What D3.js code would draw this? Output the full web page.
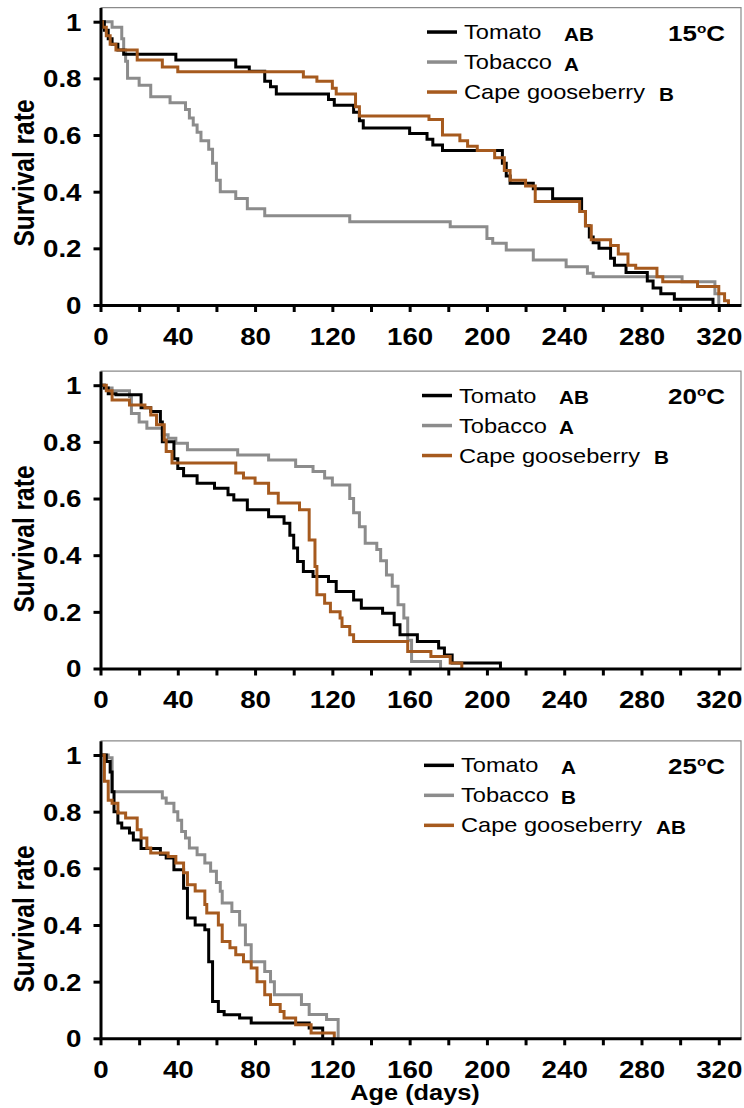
<!DOCTYPE html>
<html><head><meta charset="utf-8">
<script src="https://cdn.jsdelivr.net/npm/d3@7"></script>
<style>html,body{margin:0;padding:0;background:#fff}svg{display:block}</style>
</head><body>
<svg id="c" width="744" height="1108"></svg>
<script>
// ---------- data ----------
const hosts = ["Tomato", "Tobacco", "Cape gooseberry"];
const temps = ["15", "20", "25"];
const letters15 = ["AB", "A", "B"];
const letters20 = ["AB", "A", "B"];
const letters25 = ["A", "B", "AB"];
const xTickValues = [0,20,40,60,80,100,120,140,160,180,200,220,240,260,280,300,320];
const xTickLabels = [0,40,80,120,160,200,240,280,320];
const yTickLabels = [0,0.2,0.4,0.6,0.8,1];

// [age (days), survival rate] - step starts
const tomato15 = [[0,1],[2,0.97],[4,0.94],[6,0.92],[9,0.9],[12,0.885],[39,0.865],[70,0.84],[77,0.825],[85,0.79],[88,0.77],[91,0.745],[118,0.725],[121,0.705],[131,0.68],[134,0.65],[136,0.625],[160,0.605],[169,0.585],[172,0.565],[177,0.545],[208,0.5],[210,0.455],[212,0.43],[224,0.41],[234,0.375],[249,0.33],[251,0.28],[253,0.24],[255,0.22],[258,0.2],[264,0.165],[266,0.14],[272,0.115],[283,0.085],[286,0.06],[290,0.04],[297,0.02],[317,0]];
const tobacco15 = [[0,1],[6,0.98],[11,0.94],[12,0.9],[13,0.86],[14,0.8],[20,0.776],[26,0.735],[36,0.714],[44,0.69],[46,0.66],[48,0.635],[50,0.61],[52,0.58],[56,0.55],[58,0.5],[60,0.44],[62,0.4],[70,0.376],[76,0.34],[85,0.315],[129,0.294],[181,0.276],[200,0.235],[203,0.218],[210,0.194],[224,0.159],[241,0.135],[252,0.112],[255,0.1],[301,0.082],[318,0.04],[320,0]];
const cape15 = [[0,1],[1,0.98],[3,0.95],[5,0.92],[8,0.9],[19,0.865],[32,0.84],[40,0.823],[105,0.805],[112,0.79],[120,0.765],[122,0.745],[132,0.7],[134,0.667],[170,0.655],[177,0.6],[186,0.58],[190,0.56],[195,0.545],[204,0.52],[209,0.475],[212,0.44],[220,0.42],[225,0.365],[248,0.33],[251,0.28],[254,0.23],[264,0.21],[268,0.18],[273,0.14],[277,0.13],[288,0.1],[291,0.082],[309,0.065],[320,0.04],[323,0.015],[325,0]];

const tomato20 = [[0,1],[2,0.99],[4,0.97],[8,0.966],[21,0.92],[26,0.907],[31,0.87],[32,0.8],[38,0.74],[40,0.706],[43,0.68],[50,0.654],[59,0.636],[66,0.613],[69,0.595],[76,0.56],[87,0.536],[95,0.513],[98,0.47],[100,0.425],[102,0.378],[105,0.342],[110,0.325],[118,0.307],[122,0.272],[131,0.242],[135,0.213],[146,0.195],[152,0.154],[155,0.119],[164,0.095],[175,0.072],[178,0.048],[182,0.019],[207,0]];
const tobacco20 = [[0,1],[2,0.99],[6,0.98],[15,0.96],[16,0.9],[20,0.87],[24,0.848],[32,0.825],[35,0.813],[39,0.795],[45,0.772],[71,0.754],[87,0.736],[101,0.713],[110,0.695],[116,0.672],[120,0.648],[129,0.6],[131,0.55],[134,0.5],[137,0.442],[143,0.42],[145,0.38],[148,0.33],[151,0.29],[154,0.225],[157,0.178],[159,0.1],[161,0.025],[176,0]];
const cape20 = [[0,1],[3,0.98],[6,0.948],[15,0.93],[23,0.92],[26,0.895],[29,0.86],[33,0.807],[34,0.766],[37,0.725],[70,0.69],[74,0.672],[80,0.654],[87,0.619],[92,0.584],[103,0.56],[108,0.454],[111,0.36],[112,0.26],[116,0.23],[119,0.2],[124,0.178],[125,0.148],[129,0.119],[131,0.095],[159,0.06],[171,0.042],[181,0.019],[187,0]];

const tomato25 = [[0,1],[3,0.977],[5,0.94],[6,0.87],[7,0.8],[9,0.76],[11,0.742],[15,0.725],[17,0.7],[21,0.67],[31,0.65],[34,0.636],[38,0.595],[43,0.53],[45,0.425],[49,0.4],[54,0.383],[56,0.27],[58,0.13],[61,0.095],[64,0.083],[72,0.072],[78,0.054],[108,0.036],[115,0]];
const tobacco25 = [[0,1],[4,0.99],[6,0.87],[32,0.848],[34,0.83],[38,0.8],[40,0.77],[42,0.73],[44,0.707],[46,0.672],[50,0.648],[54,0.619],[57,0.59],[60,0.55],[62,0.519],[63,0.478],[68,0.448],[72,0.4],[75,0.33],[78,0.27],[85,0.236],[88,0.2],[90,0.154],[104,0.119],[108,0.084],[117,0.066],[123,0]];
const cape25 = [[0,1],[2,0.907],[4,0.84],[6,0.83],[9,0.795],[13,0.778],[19,0.736],[21,0.707],[24,0.672],[26,0.654],[35,0.642],[39,0.619],[43,0.584],[45,0.542],[49,0.52],[54,0.472],[55,0.442],[61,0.4],[63,0.342],[67,0.32],[70,0.295],[74,0.27],[78,0.248],[81,0.2],[85,0.154],[88,0.119],[93,0.095],[95,0.072],[101,0.048],[109,0.019],[121,0]];

// ---------- layout ----------
const colors = ["#000000", "#8c8c8c", "#a65a1e"];
const SX = 1.18; // horizontal text stretch of the original
const panels = [
  {temp: temps[0], letters: letters15, series: [tomato15, tobacco15, cape15], y0: 305,   titleY: 173, legX: 427},
  {temp: temps[1], letters: letters20, series: [tomato20, tobacco20, cape20], y0: 668.5, titleY: 539, legX: 422},
  {temp: temps[2], letters: letters25, series: [tomato25, tobacco25, cape25], y0: 1038.3, titleY: 919, legX: 424}
];
const unit = 283.3;
const svg = d3.select("#c");
const x = d3.scaleLinear().domain([0, 331.5]).range([100.5, 741]);
const FONT = "'Liberation Sans', Arial, sans-serif";

function stext(g, tx, ty, str, size, weight, anchor) {
  return g.append("g").attr("transform", `translate(${tx},${ty}) scale(${SX},1)`)
    .append("text").attr("text-anchor", anchor || "start")
    .attr("font-family", FONT).attr("font-size", size).attr("font-weight", weight || "normal")
    .attr("fill", "#000").text(str);
}

panels.forEach((p, pi) => {
  const y = d3.scaleLinear().domain([0, 1.05]).range([p.y0, p.y0 - 1.05 * unit]);
  const top = y(1.05);
  const g = svg.append("g");

  // frame top/right
  g.append("path").attr("d", `M${x(0)},${top}H${x.range()[1]}V${p.y0}`)
    .attr("fill", "none").attr("stroke", "#8a8a8a").attr("stroke-width", 1.2);

  // lines (gray, black, brown order)
  const line = d3.line().x(d => x(d[0])).y(d => y(d[1])).curve(d3.curveStepAfter);
  [1, 0, 2].forEach(si => {
    g.append("path").datum(p.series[si]).attr("d", line)
      .attr("fill", "none").attr("stroke", colors[si]).attr("stroke-width", 3)
      .attr("stroke-linejoin", "miter");
  });

  // x axis
  const xa = g.append("g").attr("transform", `translate(0,${p.y0})`)
    .call(d3.axisBottom(x).tickValues(xTickValues).tickSize(7).tickSizeOuter(0)
      .tickFormat(d => xTickLabels.includes(d) ? d : ""));
  xa.select(".domain").attr("stroke", "#000").attr("stroke-width", 3);
  xa.selectAll(".tick line").attr("stroke", "#000").attr("stroke-width", 3);
  xa.selectAll(".tick text").attr("y", 40).attr("dy", null)
    .attr("font-family", FONT).attr("font-size", 23.5).attr("font-weight", "bold").attr("fill", "#000")
    .attr("transform", `scale(${SX},1)`);

  // y axis
  const ya = g.append("g").attr("transform", `translate(${x(0)},0)`)
    .call(d3.axisLeft(y).tickValues(yTickLabels).tickSize(7).tickSizeOuter(0).tickFormat(d3.format("~g")));
  ya.select(".domain").attr("stroke", "#000").attr("stroke-width", 3);
  ya.selectAll(".tick line").attr("stroke", "#000").attr("stroke-width", 3);
  ya.selectAll(".tick text").attr("x", -19 / SX).attr("dy", "0.36em")
    .attr("font-family", FONT).attr("font-size", 23.5).attr("font-weight", "bold").attr("fill", "#000")
    .attr("transform", `scale(${SX},1)`);

  // y title
  svg.append("g").attr("transform", `translate(24,${p.titleY}) scale(${SX},1) rotate(-90)`)
    .append("text").attr("text-anchor", "middle").attr("dy", "0.36em")
    .attr("font-family", FONT).attr("font-size", 24.5).attr("font-weight", "bold").text("Survival rate");

  // legend
  const lx = p.legX, tx = lx + 37;
  hosts.forEach((h, i) => {
    const by = top + 31.5 + i * 30;
    g.append("line").attr("x1", lx).attr("x2", lx + 30).attr("y1", by - 7).attr("y2", by - 7)
      .attr("stroke", colors[i]).attr("stroke-width", 3.5);
    stext(g, tx, by, h, 20, "normal");
    const lxp = i === 2 ? tx + 195 : tx + 100;
    stext(g, lxp, by + 1.5, p.letters[i], 17.5, "bold");
  });

  // temperature label
  const tl = g.append("g").attr("transform", `translate(725,${top + 33}) scale(${SX},1)`)
    .append("text").attr("text-anchor", "end").attr("font-family", FONT)
    .attr("font-size", 22).attr("font-weight", "bold");
  tl.append("tspan").text(p.temp);
  tl.append("tspan").attr("dy", -8).attr("font-size", 13).text("o");
  tl.append("tspan").attr("dy", 8).text("C");

  if (pi === 2) {
    stext(svg, 415, 1100, "Age (days)", 21.5, "bold", "middle");
  }
});
</script>
</body></html>
